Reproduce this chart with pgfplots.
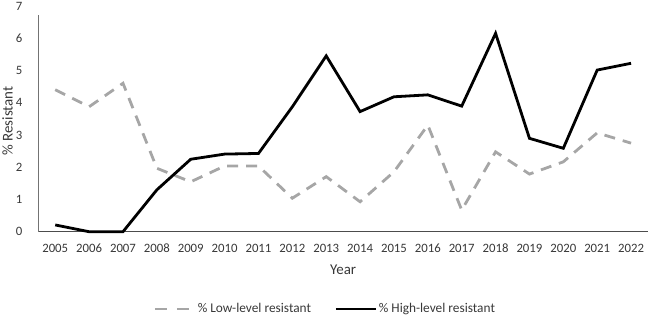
\documentclass[border=0pt]{standalone}
\usepackage{pgfplots}
\pgfplotsset{compat=1.18}
\usepackage{fontspec}
\setmainfont{Carlito}
\begin{document}
\begin{tikzpicture}[x=1bp,y=1bp]
% fixed page frame around the plot area
\useasboundingbox (-38.3bp,-85.3bp) rectangle (611.7bp,231.7bp);
\begin{axis}[
  at={(0,0)}, anchor=south west,
  scale only axis,
  width=609.7bp, height=225.4bp,
  xmin=-0.5, xmax=17.5,
  ymin=0, ymax=7,
  ytick={0,1,...,7},
  xtick={0,1,...,17},
  xticklabels={2005,2006,2007,2008,2009,2010,2011,2012,2013,2014,2015,2016,2017,2018,2019,2020,2021,2022},
  axis x line*=bottom,
  axis y line*=left,
  x axis line style={draw=black!70, line width=1bp, -},
  y axis line style={draw=black!55, line width=1bp, -, shorten >=8.7bp},
  major tick length=0pt,
  tick style={draw=none},
  /pgf/number format/assume math mode=true,
  ticklabel style={font=\fontsize{12.8}{14}\selectfont, text=black!78},
  xticklabel style={anchor=center, yshift=-16.8bp},
  yticklabel style={anchor=east, xshift=-12.5bp},
  xlabel={Year},
  ylabel={\% Resistant},
  label style={font=\fontsize{15}{17}\selectfont, text=black!78},
  xlabel style={at={(axis description cs:0.5,0)}, anchor=center, yshift=-38.3bp},
  ylabel style={at={(axis description cs:-0.0505,0.491)}, anchor=center},
  legend columns=2,
  legend style={at={(axis description cs:0.4702,-0.343)}, anchor=center, draw=none, fill=none,
    font=\fontsize{13.4}{15}\selectfont, text=black!78,
    /tikz/every odd column/.append style={column sep=0bp},
    /tikz/every even column/.append style={column sep=22bp},
    nodes={inner xsep=1.5bp}},
  legend image code/.code={\draw[#1] (0bp,0bp) -- (40bp,0bp);},
  clip=false,
]
\addplot[color=black!35, line width=2.8bp, dash pattern=on 11bp off 8bp,
  legend image post style={dash pattern=on 12bp off 10bp}] coordinates {
  (0,4.41) (1,3.88) (2,4.61) (3,1.97) (4,1.55) (5,2.04) (6,2.04) (7,1.04) (8,1.71)
  (9,0.93) (10,1.86) (11,3.31) (12,0.67) (13,2.48) (14,1.79) (15,2.17) (16,3.07) (17,2.75)
};
\addlegendentry{\% Low-level resistant}
\addplot[color=black, line width=2.8bp] coordinates {
  (0,0.21) (1,0) (2,0) (3,1.30) (4,2.25) (5,2.41) (6,2.43) (7,3.88) (8,5.46)
  (9,3.73) (10,4.19) (11,4.25) (12,3.90) (13,6.16) (14,2.90) (15,2.59) (16,5.02) (17,5.23)
};
\addlegendentry{\% High-level resistant}
\end{axis}
\end{tikzpicture}
\end{document}
